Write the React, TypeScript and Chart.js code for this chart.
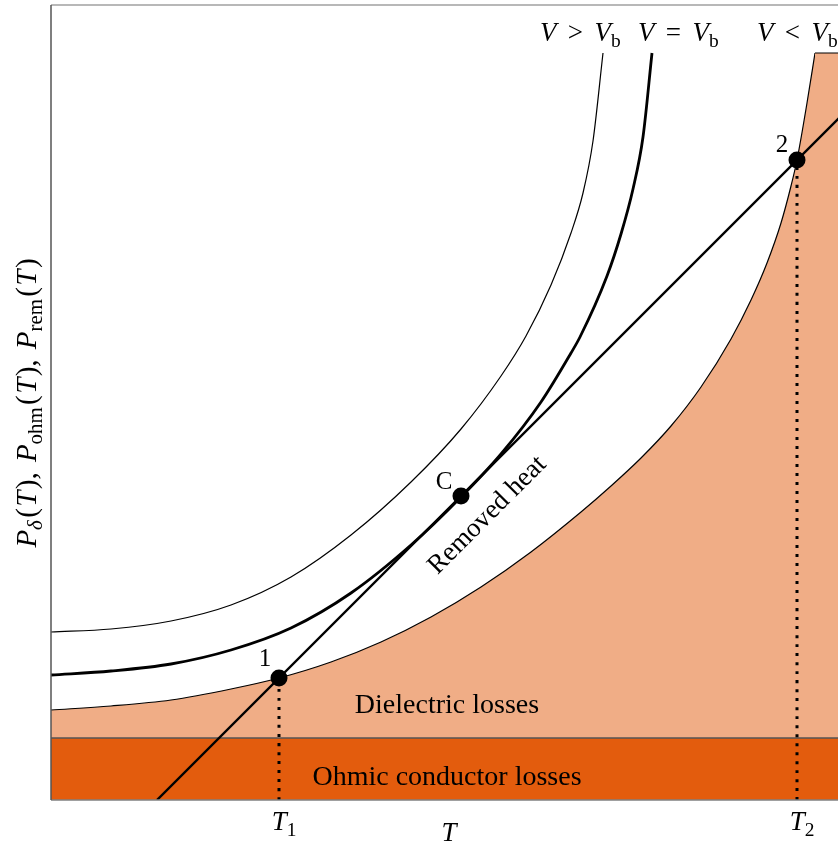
import React, { useEffect, useRef } from "react";
import { Chart, registerables } from "chart.js";
Chart.register(...registerables);

// Axis ranges (arbitrary units)
const X_MAX = 820;
const Y_MAX = 795;

// Dielectric losses P_delta(T) (V < Vb)
const dielectricT = [0, 60, 120, 180, 228, 280, 330, 380, 430, 480, 530, 560, 590, 620, 650, 680, 700, 716, 730, 740, 746, 756, 764];
const dielectricP = [90, 94, 100, 111, 122, 138, 158, 183, 213, 248, 288, 314, 342, 374, 413, 461, 500, 537, 577, 614, 640, 697, 747];
const capT = [764, 820];
const capP = [747, 747];
// Ohmic conductor losses
const ohmicT = [0, 820];
const ohmicP = [62, 62];
// V > Vb curve
const vAboveT = [0, 60, 120, 180, 240, 300, 360, 410, 450, 475, 500, 520, 532, 542, 552];
const vAboveP = [168, 171, 179, 195, 223, 265, 318, 371, 424, 464, 515, 567, 607, 659, 747];
// V = Vb curve
const vEqualT = [0, 60, 120, 180, 240, 300, 360, 410, 450, 490, 520, 529, 556, 570, 582, 592, 601];
const vEqualP = [125, 129, 136, 150, 172, 207, 255, 303, 346, 398, 447, 463, 524, 566, 611, 663, 747];
// Removed heat line
const removedT = [106, 820];
const removedP = [0, 714];
// Marked points
const pointLabels = ["1", "C", "2"];
const pointT = [228, 410, 746];
const pointP = [122, 304, 640];
// Tick labels
const tickT = [228, 746];
const tickSubs = ["1", "2"];

const SERIF = '"Liberation Serif", "DejaVu Serif", serif';
const LIGHT = "#F0AD86";
const DARK = "#E35C0D";

type Seg = { t: string; it?: boolean; sub?: boolean; k?: number };

function rich(ctx: CanvasRenderingContext2D, segs: Seg[], x: number, y: number, size: number, align: "left" | "center" = "center") {
  const parts = segs.map((s) => {
    const fs = s.sub ? size * 0.72 : size;
    const font = `${s.it ? "italic " : ""}${fs}px ${SERIF}`;
    ctx.font = font;
    return { ...s, font, w: ctx.measureText(s.t).width + (s.k || 0) * size, dy: s.sub ? size * 0.22 : 0 };
  });
  const total = parts.reduce((a, p) => a + p.w, 0);
  let cx = align === "center" ? x - total / 2 : x;
  ctx.textAlign = "left";
  ctx.textBaseline = "alphabetic";
  for (const p of parts) {
    ctx.font = p.font;
    ctx.fillText(p.t, cx, y + p.dy);
    cx += p.w;
  }
}

const zip = (xs: number[], ys: number[]) => xs.map((x, i) => ({ x, y: ys[i] }));

const textPlugin = {
  id: "annot",
  afterDraw(chart: any) {
    const ctx: CanvasRenderingContext2D = chart.ctx;
    const xs = chart.scales.x;
    const ys = chart.scales.y;
    const ca = chart.chartArea;
    ctx.save();
    // frame
    ctx.lineWidth = 1.5;
    ctx.strokeStyle = "#a0a0a0";
    ctx.beginPath();
    ctx.moveTo(ca.left, ca.top);
    ctx.lineTo(ca.right + 2, ca.top);
    ctx.stroke();
    ctx.strokeStyle = "#808080";
    ctx.beginPath();
    ctx.moveTo(ca.left, ca.bottom);
    ctx.lineTo(ca.right + 2, ca.bottom);
    ctx.stroke();
    ctx.strokeStyle = "#555555";
    ctx.beginPath();
    ctx.moveTo(ca.left, ca.top);
    ctx.lineTo(ca.left, ca.bottom);
    ctx.stroke();

    ctx.fillStyle = "#000";
    // region labels
    rich(ctx, [{ t: "Dielectric losses" }], 447, 713, 28);
    rich(ctx, [{ t: "Ohmic conductor losses" }], 447, 785, 28);
    ctx.save();
    ctx.translate(486, 514);
    ctx.rotate(-Math.PI / 4);
    rich(ctx, [{ t: "Removed heat" }], 0, 9, 27);
    ctx.restore();

    // point labels
    const offs = [
      [-14, -12],
      [-17, -7],
      [-15, -8],
    ];
    pointLabels.forEach((l, i) => {
      const px = xs.getPixelForValue(pointT[i]);
      const py = ys.getPixelForValue(pointP[i]);
      rich(ctx, [{ t: l }], px + offs[i][0], py + offs[i][1], 25);
    });

    // curve labels
    const vlab = (op: string, x: number) =>
      rich(ctx, [{ t: "V", it: true, k: 0.42 }, { t: op, k: 0.42 }, { t: "V", it: true }, { t: "b", sub: true }], x, 41, 27, "left");
    vlab(">", 540);
    vlab("=", 638);
    vlab("<", 757);

    // x tick labels
    tickT.forEach((t, i) => {
      rich(ctx, [{ t: "T", it: true }, { t: tickSubs[i], sub: true }], xs.getPixelForValue(t) + 5, 830, 27);
    });
    rich(ctx, [{ t: "T", it: true }], 449, 841, 27);

    // y title
    ctx.save();
    ctx.translate(36, 403);
    ctx.rotate(-Math.PI / 2);
    rich(
      ctx,
      [
        { t: "P", it: true },
        { t: "δ", it: true, sub: true, k: 0.08 },
        { t: "(", k: 0.05 },
        { t: "T", it: true, k: 0.05 },
        { t: "),", k: 0.35 },
        { t: "P", it: true },
        { t: "ohm", sub: true, k: 0.08 },
        { t: "(", k: 0.05 },
        { t: "T", it: true, k: 0.05 },
        { t: "),", k: 0.35 },
        { t: "P", it: true },
        { t: "rem", sub: true, k: 0.08 },
        { t: "(", k: 0.05 },
        { t: "T", it: true, k: 0.05 },
        { t: ")" },
      ],
      0,
      0,
      29
    );
    ctx.restore();
    ctx.restore();
  },
};

export default function App() {
  const ref = useRef<HTMLCanvasElement>(null);
  useEffect(() => {
    if (!ref.current) return;
    const line = (o: any) => ({ pointRadius: 0, cubicInterpolationMode: "monotone", ...o });
    const chart = new Chart(ref.current, {
      type: "line",
      data: {
        datasets: [
          line({ data: zip(dielectricT, dielectricP), borderColor: "#000", borderWidth: 1.2, backgroundColor: LIGHT, fill: "origin", order: 20 }),
          line({ data: zip(capT, capP), borderColor: "#000", borderWidth: 1.2, backgroundColor: LIGHT, fill: "origin", order: 19 }),
          line({ data: zip(ohmicT, ohmicP), borderColor: "#555", borderWidth: 1.5, backgroundColor: DARK, fill: "origin", order: 18 }),
          line({ data: zip(vAboveT, vAboveP), borderColor: "#000", borderWidth: 1.2, fill: false, order: 17 }),
          line({ data: zip(vEqualT, vEqualP), borderColor: "#000", borderWidth: 2.8, fill: false, order: 16 }),
          line({ data: zip(removedT, removedP), borderColor: "#000", borderWidth: 2.4, fill: false, order: 15 }),
          line({ data: [{ x: tickT[0], y: 0 }, { x: pointT[0], y: pointP[0] }], borderColor: "#000", borderWidth: 3, borderDash: [3, 6], borderCapStyle: "butt", fill: false, order: 14 }),
          line({ data: [{ x: tickT[1], y: 0 }, { x: pointT[2], y: pointP[2] }], borderColor: "#000", borderWidth: 3, borderDash: [3, 6], borderCapStyle: "butt", fill: false, order: 13 }),
          {
            data: zip(pointT, pointP),
            showLine: false,
            pointRadius: 8.5,
            pointBackgroundColor: "#000",
            pointBorderWidth: 0,
            order: 1,
          },
        ],
      },
      options: {
        animation: false,
        responsive: false,
        devicePixelRatio: 1,
        layout: { autoPadding: false, padding: { left: 51, top: 5, right: 9, bottom: 46 } },
        plugins: { legend: { display: false }, tooltip: { enabled: false } },
        scales: {
          x: { type: "linear", min: 0, max: X_MAX, display: false },
          y: { type: "linear", min: 0, max: Y_MAX, display: false },
        },
      },
      plugins: [textPlugin],
    });
    return () => chart.destroy();
  }, []);
  return (
    <div style={{ position: "fixed", left: 0, top: 0, width: 838, height: 846, overflow: "hidden", background: "#fff" }}>
      <canvas ref={ref} width={880} height={846} style={{ display: "block" }} />
    </div>
  );
}
